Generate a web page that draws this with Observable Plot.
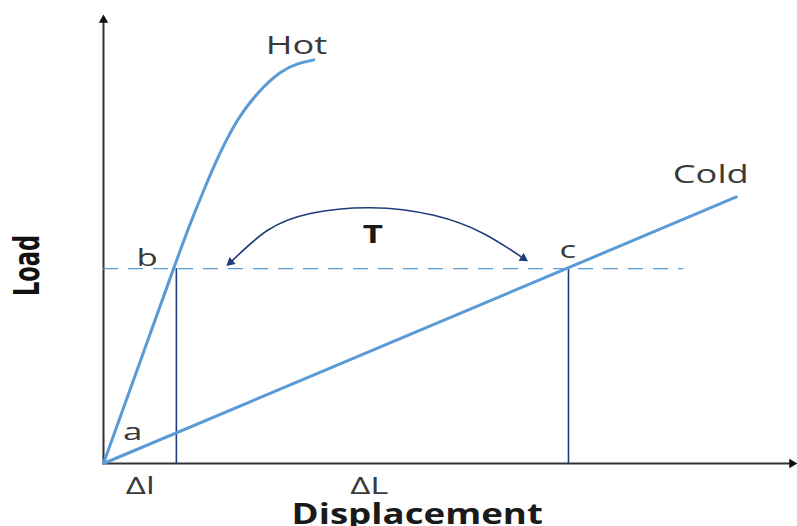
<!DOCTYPE html>
<html><head><meta charset="utf-8">
<script src="https://cdn.jsdelivr.net/npm/d3@7"></script>
<script src="https://cdn.jsdelivr.net/npm/@observablehq/plot@0.6"></script>
<style>body{margin:0;background:#fff}</style>
</head><body><div id="chart"></div>
<script>
// Hot curve (displacement, load)
const hotX = [0, 10.1, 12.3, 14.45, 16.86, 19.27, 22.15, 25.5, 30.3];
const hotY = [0, 43.5, 52.7, 61.0, 69.5, 76.5, 82.5, 87.3, 90.1];
// Cold line
const coldX = [0, 91.2];
const coldY = [0, 59.5];
// Load level (points b and c)
const levelY = 43.5;
const levelEndX = 83.6;
const dropX = [10.5, 67.0]; // Δl and ΔL
// T arc
const arcX = [18.3, 23.6, 29.8, 38.5, 47.6, 54.8, 60.5];
const arcY = [44.9, 52.0, 55.8, 57.1, 55.4, 51.3, 45.8];
// labels
const labelText = ["Hot", "Cold", "b", "c", "a", "T", "Δl", "ΔL", "Displacement"];
const labelX    = [27.8, 87.5, 6.3, 66.9, 4.2, 38.8, 5.3, 38.3, 45.2];
const labelY    = [93.1, 64.5, 45.7, 47.5, 6.9, 51.1, -5.2, -5.2, -11.5];
const labelSize = [25, 25, 24, 24, 24, 25, 24, 24, 28];
const labelBold = [false, false, false, false, false, true, false, false, true];
const labelStretch = [1.45, 1.45, 1.45, 1.45, 1.45, 1.4, 1.45, 1.45, 1.31];
const yTitle = "Load";

const hot = hotX.map((x, i) => ({x, y: hotY[i]}));
const cold = coldX.map((x, i) => ({x, y: coldY[i]}));
const arc = arcX.map((x, i) => ({x, y: arcY[i]}));
const blue = "#5b9bd5", navy = "#1f3d7a", axisC = "#333";
const font = "'Open Sans', Lato, sans-serif";

const textMarks = labelText.map((t, i) => Plot.text([{t, x: labelX[i], y: labelY[i]}], {
  x: "x", y: "y", text: "t", fontSize: labelSize[i], fontWeight: labelBold[i] ? "bold" : "normal",
  fill: labelBold[i] ? "#1a1a1a" : "#3a3a3a", fontFamily: font, textAnchor: "middle", lineAnchor: "middle"
}));

const chart = Plot.plot({
  width: 797, height: 526,
  marginLeft: 103, marginRight: 0, marginTop: 15, marginBottom: 63,
  x: {domain: [0, 100], axis: null},
  y: {domain: [0, 100], axis: null},
  marks: [
    // axes
    Plot.ruleX([0], {y1: 0, y2: 99, stroke: axisC, strokeWidth: 2}),
    Plot.ruleY([0], {x1: 0, x2: 99, stroke: axisC, strokeWidth: 2}),
    Plot.dot([{x: 0, y: 99}], {x: "x", y: "y", symbol: "triangle2", r: 4.5, fill: "#111", rotate: 0}),
    Plot.dot([{x: 99.2, y: 0}], {x: "x", y: "y", symbol: "triangle2", r: 4.5, fill: "#111", rotate: 90}),
    // dashed load level
    Plot.ruleY([levelY], {x1: 0, x2: levelEndX, stroke: blue, strokeWidth: 1.4, strokeDasharray: "15,10"}),
    // vertical drops
    Plot.ruleX(dropX, {y1: 0, y2: levelY, stroke: navy, strokeWidth: 1.6}),
    // curves
    Plot.line(cold, {x: "x", y: "y", stroke: blue, strokeWidth: 3}),
    Plot.line(hot, {x: "x", y: "y", stroke: blue, strokeWidth: 3, curve: "monotone-x"}),
    // T arc
    Plot.line(arc, {x: "x", y: "y", stroke: navy, strokeWidth: 1.6, curve: "natural"}),
    Plot.dot([arc[0]], {x: "x", y: "y", symbol: "triangle2", r: 4.5, fill: navy, rotate: 229}),
    Plot.dot([arc[arc.length - 1]], {x: "x", y: "y", symbol: "triangle2", r: 4.5, fill: navy, rotate: 122}),
    ...textMarks,
    Plot.text([{t: yTitle, x: 0, y: 44.2}], {
      x: "x", y: "y", text: "t", rotate: -90, dx: -76, fontSize: 25, fontWeight: "bold",
      fill: "#111", fontFamily: "'Liberation Sans Narrow', 'DejaVu Sans Condensed', sans-serif",
      textAnchor: "middle", lineAnchor: "middle"
    })
  ]
});
// widen the lettering horizontally, as in the reference picture
const groups = chart.querySelectorAll("g[aria-label=text]");
groups.forEach((g, i) => {
  g.querySelectorAll("text").forEach(el => {
    const tr = el.getAttribute("transform") || "";
    if (i < labelText.length) el.setAttribute("transform", tr + ` scale(${labelStretch[i]},1)`);
    else el.setAttribute("transform", tr + " scale(1,1.4)");
  });
});
document.getElementById("chart").appendChild(chart);
</script>
</body></html>
